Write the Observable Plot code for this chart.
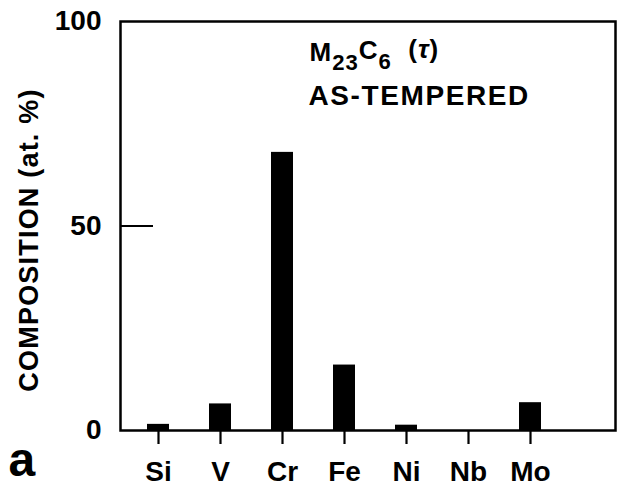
<!DOCTYPE html>
<html><head><meta charset="utf-8">
<script src="https://cdn.jsdelivr.net/npm/d3@7"></script>
<script src="https://cdn.jsdelivr.net/npm/@observablehq/plot@0.6"></script>
<style>body{margin:0;background:#fff}</style>
</head><body><div id="chart"></div>
<script>
const elements = ["Si", "V", "Cr", "Fe", "Ni", "Nb", "Mo"];
const composition = [1.5, 6.5, 68, 16, 1.3, 0, 6.8];
const yTicks = [0, 50, 100];
const innerTick = [50];
const yLabel = "COMPOSITION (at. %)";
const panelLabel = "a";
const titleLine1 = "M23C6 (τ)";
const titleLine2 = "AS-TEMPERED";

const data = elements.map((e, i) => ({element: e, value: composition[i]}));

const font = "'Liberation Sans', Arial, Helvetica, sans-serif";
const plot = Plot.plot({
  width: 620, height: 490,
  marginLeft: 120, marginRight: 5, marginTop: 21, marginBottom: 60,
  style: {fontFamily: font, background: "#fff", color: "#000", overflow: "visible"},
  x: {type: "band", domain: elements, range: [123.6, 563.4], paddingInner: 0.65, paddingOuter: 0.325, label: null},
  y: {domain: [0, 100], label: null},
  marks: [
    Plot.barY(data, {x: "element", y: "value", fill: "#000"}),
    Plot.frame({stroke: "#000", strokeWidth: 2.5}),
    Plot.tickY(innerTick, {y: d => d, insetRight: 462, stroke: "#000", strokeWidth: 2}),
    Plot.axisY(yTicks, {tickSize: 0, tickPadding: 19, fontSize: 28, fontWeight: "bold", label: null}),
    Plot.axisX({tickSize: 14, tickPadding: 17, fontSize: 28, fontWeight: "bold", strokeWidth: 2.2, label: null}),
    Plot.text([yLabel], {frameAnchor: "left", dx: -91, dy: 14, rotate: -90, textAnchor: "middle", fontSize: 27, fontWeight: "bold"}),
    Plot.text([panelLabel], {frameAnchor: "bottom-left", dx: -112, dy: 45, fontSize: 48, fontWeight: "bold", textAnchor: "start", lineAnchor: "bottom"}),
    Plot.text([titleLine1], {frameAnchor: "top-left", dx: 189, dy: 21, fontSize: 26, fontWeight: "bold", textAnchor: "start", lineAnchor: "top"}),
    Plot.text([titleLine2], {frameAnchor: "top-left", dx: 188, dy: 64, fontSize: 28, fontWeight: "bold", textAnchor: "start", lineAnchor: "top"})
  ]
});
document.getElementById("chart").appendChild(plot);

// subscripts for the chemical formula, spacing for labels
d3.select(plot).selectAll("text").each(function() {
  if (this.textContent === titleLine1) {
    const t = d3.select(this).attr("letter-spacing", "1px");
    t.text(null);
    t.append("tspan").text("M");
    t.append("tspan").attr("dy", "0.42em").attr("font-size", "0.85em").text("23");
    t.append("tspan").attr("dy", "-0.42em").text("C");
    t.append("tspan").attr("dy", "0.42em").attr("font-size", "0.85em").text("6");
    t.append("tspan").attr("dy", "-0.42em").text("\u00A0\u00A0(");
    t.append("tspan").attr("font-style", "italic").text("τ");
    t.append("tspan").text(")");
  }
  if (this.textContent === titleLine2) {
    d3.select(this).attr("letter-spacing", "1.6px");
  }
  if (this.textContent === yLabel) {
    d3.select(this).attr("letter-spacing", "1.2px");
  }
});
</script>
</body></html>
